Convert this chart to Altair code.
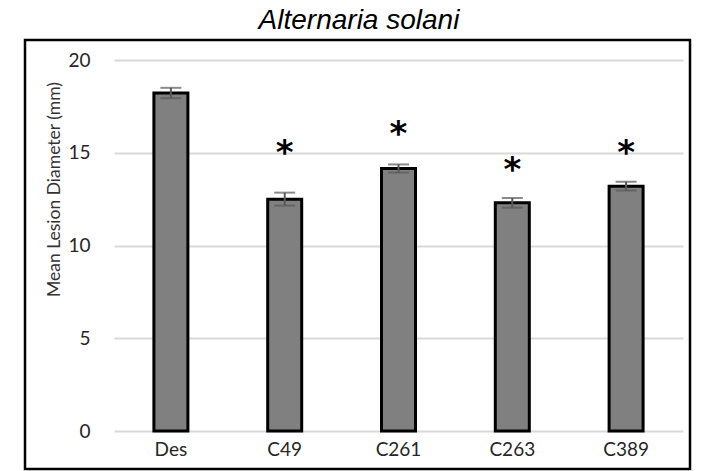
import altair as alt
import pandas as pd

categories = ["Des", "C49", "C261", "C263", "C389"]
means = [18.22, 12.5, 14.15, 12.3, 13.2]
errors = [0.28, 0.35, 0.22, 0.26, 0.24]
sig_categories = ["C49", "C261", "C263", "C389"]
sig_y = [15.2, 16.2, 14.3, 15.2]
y_ticks = [0, 5, 10, 15, 20]
title_text = "Alternaria solani"
y_title = "Mean Lesion Diameter (mm)"

df = pd.DataFrame({"cat": categories, "mean": means, "err": errors})
df["lo"] = df["mean"] - df["err"]
df["hi"] = df["mean"] + df["err"]
sig = pd.DataFrame({"cat": sig_categories, "y": sig_y})
one = pd.DataFrame({"a": [0]})

yscale = alt.Scale(domain=[0, 20], nice=False, zero=True)
xscale = alt.Scale(domain=categories, paddingInner=0, paddingOuter=0)

x_axis = alt.Axis(title=None, labelAngle=0, labelFont="Lato", labelFontSize=19,
                  labelColor="#262626", labelPadding=9, ticks=False, domain=False,
                  grid=False)
y_axis = alt.Axis(values=y_ticks, title=y_title, grid=True, gridColor="#d9d9d9",
                  gridWidth=2, domain=False, ticks=False, labelPadding=24,
                  labelFont="Lato", labelFontSize=19, labelColor="#262626",
                  titleFont="Lato", titleFontSize=17.5, titleFontWeight="normal",
                  titleColor="#333333", titleX=-60, titleY=129, titleAngle=-90,
                  titleAlign="center", titleBaseline="middle")


def xe():
    return alt.X("cat:N", sort=categories, scale=xscale, axis=x_axis)


def ye(field):
    return alt.Y(field, scale=yscale, axis=y_axis)


frame = alt.Chart(one).mark_rect(fillOpacity=0, stroke="black", strokeWidth=2.5).encode(
    x=alt.value(-89), x2=alt.value(576), y=alt.value(-20), y2=alt.value(409)
)

bars = alt.Chart(df).mark_bar(size=34, color="#808080", stroke="black", strokeWidth=3).encode(
    x=xe(), y=ye("mean:Q")
)

stem = alt.Chart(df).mark_rule(color="#595959", strokeWidth=2).encode(
    x=xe(), y=ye("lo:Q"), y2="hi:Q"
)
cap_hi = alt.Chart(df).mark_tick(color="#595959", size=21, thickness=2, orient="horizontal").encode(
    x=xe(), y=ye("hi:Q")
)
cap_lo = alt.Chart(df).mark_tick(color="#595959", size=21, thickness=2, orient="horizontal").encode(
    x=xe(), y=ye("lo:Q")
)

stars = alt.Chart(sig).mark_text(text="*", font="DejaVu Sans", fontSize=34, fontWeight="bold",
                                 baseline="alphabetic", align="center", dy=15,
                                 color="black").encode(
    x=xe(), y=ye("y:Q")
)

title = alt.Chart(one).mark_text(text=title_text, font="Liberation Sans", fontSize=28,
                                 fontStyle="italic", align="center", baseline="alphabetic",
                                 color="black").encode(
    x=alt.value(245), y=alt.value(-31)
)

chart = alt.layer(frame, bars, stem, cap_hi, cap_lo, stars, title).properties(
    width=569, height=371,
    autosize=alt.AutoSizeParams(type="none"),
    padding={"left": 106, "top": 52, "right": 16, "bottom": 40},
).configure_view(strokeWidth=0)

chart.save("out.html", embed_options={"renderer": "svg", "actions": False})
